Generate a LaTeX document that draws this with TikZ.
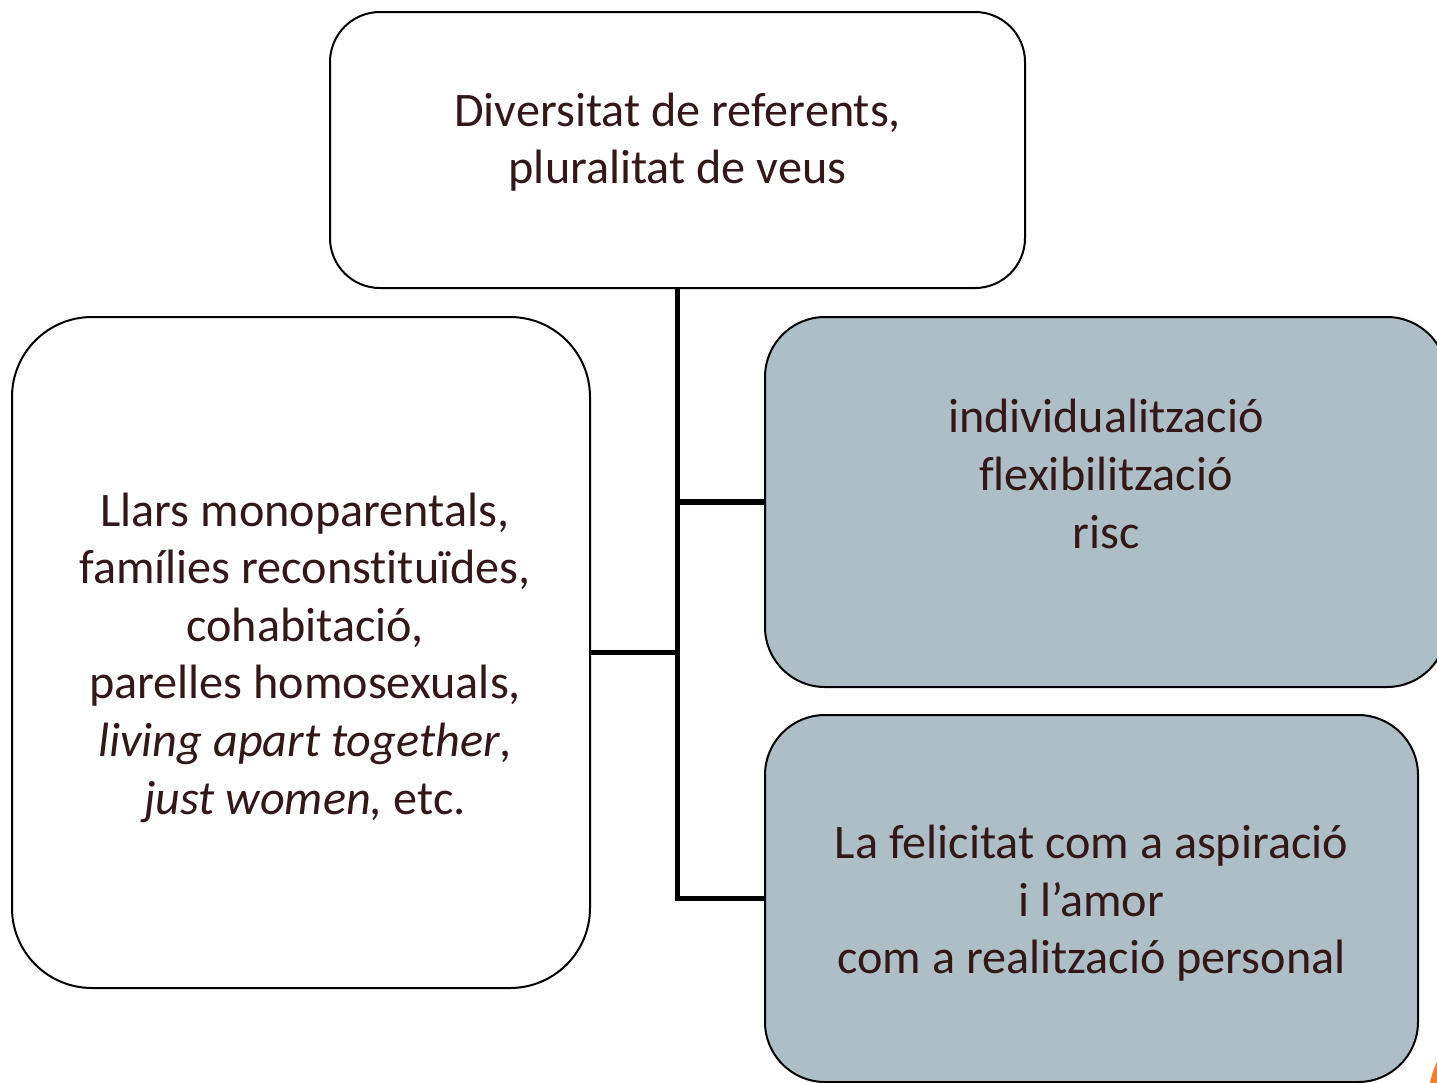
\documentclass[tikz,border=0pt]{standalone}
\usepackage{fontspec}
\setmainfont{Carlito}[Ligatures={NoCommon}]
\definecolor{boxtext}{RGB}{52,24,24}
\definecolor{boxfill}{RGB}{174,190,198}
\definecolor{cornerorange}{RGB}{240,128,48}

\begin{document}
\begin{tikzpicture}[x=0.5pt, y=-0.5pt,
	box/.style={draw=black, line width=1pt, inner sep=0pt},
	shadedbox/.style={box, fill=boxfill},
	boxlabel/.style={align=center, text=boxtext, inner sep=0pt,
		font=\fontsize{24.1}{28.8}\selectfont},
	link/.style={line width=2.6pt}]

	\useasboundingbox (0,0) rectangle (1437,1083);
	\clip (0,0) rectangle (1437,1083);

	% boxes
	\node[box, rounded corners=25pt, minimum width=347.5pt, minimum height=138pt] (top) at (677.5,150) {};
	\node[box, rounded corners=40pt, minimum width=289pt, minimum height=335.5pt] (left) at (301,652.5) {};
	\node[shadedbox, rounded corners=30pt, minimum width=341pt, minimum height=185pt] (rtop) at (1106,502) {};
	\node[shadedbox, rounded corners=30pt, minimum width=326.5pt, minimum height=183.5pt] (rbot) at (1091.5,898.5) {};

	% texts
	\node[boxlabel] (toptext) at ([yshift=4pt]top.center) {Diversitat de referents,\\pluralitat de veus};
	\node[boxlabel] (lefttext) at ([xshift=2pt, yshift=-2.5pt]left.center)
		{Llars monoparentals,\\famílies reconstituïdes,\\cohabitació,\\parelles homosexuals,\\\textit{living apart together},\\\textit{just women,} etc.};
	\node[boxlabel] (rtoptext) at ([yshift=14pt]rtop.center) {individualització\\flexibilització\\risc};
	\node[boxlabel] (rbottext) at ([yshift=-2.5pt]rbot.center) {La felicitat com a aspiració\\i l’amor\\com a realització personal};

	% connectors
	\draw[link] (top.south) |- (rbot.west);
	\draw[link] (top.south |- rtop.west) -- (rtop.west);
	\draw[link] (left.east) -- (left.east -| top.south);

	\fill[cornerorange] (1528,1103) circle (100);
\end{tikzpicture}
\end{document}
